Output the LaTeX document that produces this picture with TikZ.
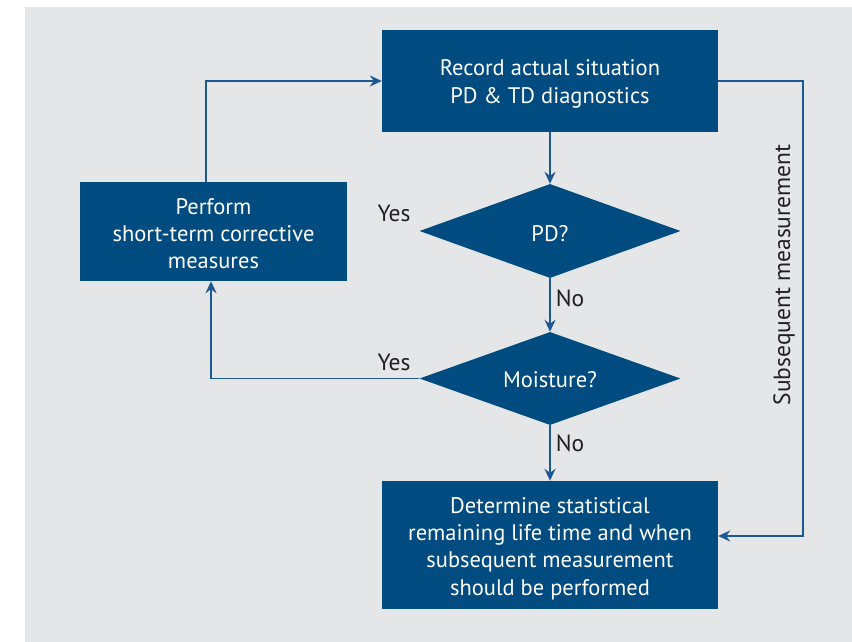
\documentclass[tikz,border=0pt]{standalone}
\usepackage{fontspec}
\setmainfont{PT Sans}
\usetikzlibrary{shapes.geometric,arrows.meta}
\definecolor{boxblue}{RGB}{0,75,128}
\definecolor{lineblue}{RGB}{28,88,145}
\definecolor{bggray}{RGB}{229,230,232}
\definecolor{labeltext}{RGB}{35,31,32}
\begin{document}
\begin{tikzpicture}[x=1pt,y=-1pt,
  box/.style={fill=boxblue, inner sep=0pt},
  boxtext/.style={text=white, align=center, inner sep=0pt,
    font=\fontsize{22.5}{27.3}\selectfont},
  decision/.style={diamond, fill=boxblue, inner sep=0pt},
  conn/.style={draw=lineblue, line width=1.6pt,
    -{Stealth[length=12pt,width=11pt,inset=4pt]}},
  lbl/.style={text=labeltext, inner sep=0pt, font=\fontsize{23.5}{27}\selectfont}]
\useasboundingbox (0,0) rectangle (852,642);
\fill[bggray] (25,7) rectangle (852,642);
\node[box, minimum width=336pt, minimum height=102pt] (rec) at (550,81) {};
\node[boxtext] (rect) at ([yshift=-3pt]rec.center)
  {Record actual situation\\PD \& TD diagnostics};
\node[box, minimum width=267pt, minimum height=99pt] (perf) at (213.5,231.5) {};
\node[boxtext] (perft) at ([yshift=-2pt]perf.center)
  {Perform\\short-term corrective\\measures};
\node[decision, minimum width=261pt, minimum height=94pt] (pd) at (550,231) {};
\node[boxtext] (pdt) at ([yshift=-3pt]pd.center) {PD?};
\node[decision, minimum width=261pt, minimum height=93pt] (moist) at (550,378.5) {};
\node[boxtext] (moistt) at ([yshift=-1pt]moist.center) {Moisture?};
\node[box, minimum width=336pt, minimum height=128pt] (det) at (550,545) {};
\node[boxtext] (dett) at ([yshift=-3.5pt]det.center)
  {Determine statistical\\remaining life time and when\\subsequent measurement\\should be performed};
\node[lbl] (yes1) at (394,213) {Yes};
\node[lbl] (no1) at (570,298) {No};
\node[lbl] (yes2) at (394,362) {Yes};
\node[lbl] (no2) at (570,443) {No};
\node[lbl, rotate=90] (sub) at (784,275) {Subsequent measurement};
\coordinate (c1) at (803,81);
\draw[conn] (rec.south) -- (pd.north);
\draw[conn] (pd.south) -- (moist.north);
\draw[conn] (moist.south) -- (det.north);
\draw[conn] (moist.west) -| ([xshift=-2.5pt]perf.south);
\draw[conn] ([xshift=-7.5pt]perf.north) |- (rec.west);
\draw[conn] (rec.east) -- (c1) |- ([yshift=9pt]det.east);
\end{tikzpicture}
\end{document}
